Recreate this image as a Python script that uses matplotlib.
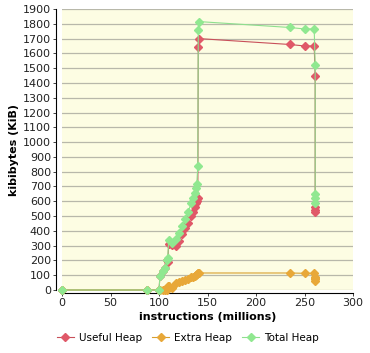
import matplotlib.pyplot as plt
from matplotlib.lines import Line2D

# data
instructions = [0, 88, 100, 101, 104, 106, 108, 109, 110, 113, 118, 121, 124, 127, 130,
                133, 135, 137, 138, 139, 140, 140.5, 141, 235, 250, 260, 261, 261, 261, 261]
useful_heap = [0, 0, 0, 94, 127, 150, 200, 190, 310, 305, 300, 330, 380, 420, 450,
               500, 530, 560, 590, 600, 620, 1640, 1700, 1660, 1650, 1650, 1445, 560, 540, 525]
extra_heap = [0, 0, 0, 0, 0, 0, 0, 25, 25, 15, 45, 55, 60, 70, 75,
              85, 90, 95, 100, 105, 115, 115, 115, 115, 113, 113, 75, 90, 80, 60]
total_heap = [0, 0, 0, 94, 127, 150, 200, 215, 335, 320, 345, 385, 435, 480, 525,
              585, 620, 655, 690, 720, 840, 1760, 1815, 1775, 1765, 1765, 1520, 650, 620, 590]

fig = plt.figure(figsize=(3.7, 3.53), dpi=100)
ax = fig.add_axes([62/370, (353-290)/353, (353-62)/370, (290-9)/353])
ax.set_facecolor('#fdfde3')

# the three series
ax.plot(instructions, useful_heap, color='#c8505a', lw=0.8, marker='D', ms=4,
        mfc='#e05868', mec='#e05868', clip_on=False, zorder=3)
ax.plot(instructions, extra_heap, color='#d8a030', lw=0.8, marker='D', ms=4,
        mfc='#e8a838', mec='#e8a838', clip_on=False, zorder=3)
ax.plot(instructions, total_heap, color='#8ee08e', lw=0.8, marker='D', ms=4,
        mfc='#90e890', mec='#90e890', clip_on=False, zorder=4)

ax.set_xlim(0, 300)
ax.set_ylim(0, 1900)
ax.set_xticks(range(0, 301, 50))
ax.set_yticks(range(0, 1901, 100))
ax.yaxis.grid(True, color='#b8b8aa', lw=0.9)
ax.set_axisbelow(True)
for s in ['top', 'right']:
    ax.spines[s].set_visible(False)
ax.spines['left'].set_position(('outward', 4))
ax.spines['bottom'].set_position(('outward', 2))
ax.tick_params(labelsize=8, length=2, width=0.6, colors='#222222', pad=2)

ax.set_xlabel('instructions (millions)', fontsize=8, fontweight='bold', labelpad=3)
ax.set_ylabel('kibibytes (KiB)', fontsize=8, fontweight='bold', labelpad=3)

handles = [
    Line2D([], [], color='#c8505a', lw=0.8, marker='D', ms=4, mfc='#e05868', mec='#e05868'),
    Line2D([], [], color='#d8a030', lw=0.8, marker='D', ms=4, mfc='#e8a838', mec='#e8a838'),
    Line2D([], [], color='#8ee08e', lw=0.8, marker='D', ms=4, mfc='#90e890', mec='#90e890'),
]
fig.legend(handles, ['Useful Heap', 'Extra Heap', 'Total Heap'], loc='center',
           bbox_to_anchor=(188/370, (353-338)/353), ncol=3, frameon=False,
           fontsize=7.5, handlelength=1.6, columnspacing=1.0, handletextpad=0.5)

fig.savefig('out.png', dpi=100)
